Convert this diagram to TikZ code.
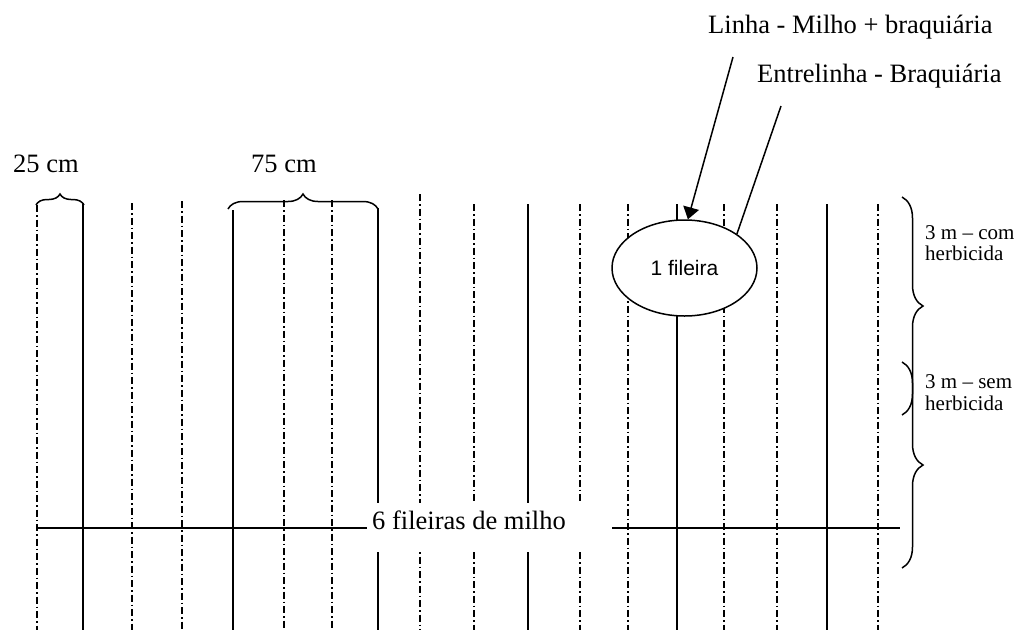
\documentclass[tikz,border=0pt]{standalone}
\usepackage{fontspec}
\setmainfont{Liberation Serif}
\newfontfamily\sansf{Liberation Sans}
\usetikzlibrary{arrows.meta,shapes.geometric,decorations.pathreplacing}
\begin{document}
\begin{tikzpicture}[x=1pt,y=-1pt,
  solidrow/.style={line width=1.6pt},
  ddrow/.style={line width=1.4pt, dash pattern=on 7pt off 3pt on 1.5pt off 3pt},
  brc/.style={line width=1.5pt, decorate, decoration={brace, amplitude=#1}},
  big/.style={font=\fontsize{26.5}{30}\selectfont, inner sep=0, anchor=base west},
  small/.style={font=\fontsize{21}{24}\selectfont, inner sep=0, anchor=base west},
  conn/.style={line width=1.5pt}
]
\fill[white] (0,0) rectangle (1018,630);
\useasboundingbox (0,0) rectangle (1018,630);

% vertical rows
\foreach \x/\t/\s in {37/205/ddrow, 83/203/solidrow, 132/203/ddrow, 182/201/ddrow,
  233/210/solidrow, 284/200/ddrow, 332/200/ddrow, 378/208/solidrow,
  420/194/ddrow, 474/204/ddrow, 528/204/solidrow, 580/204/ddrow,
  628/204/ddrow, 677/204/solidrow, 724/204/ddrow, 777/204/ddrow,
  827/204/solidrow, 878/204/ddrow}
  { \draw[\s] (\x,\t) -- (\x,630); }

% horizontal line
\draw[solidrow] (37,528) -- (900,528);

% top braces
\draw[brc=11pt] (36,205) -- (84,205);
\draw[brc=15pt] (228,209) -- (378,209);

% right braces
\draw[brc=21pt] (902,197) -- (902,415);
\draw[brc=21pt] (902,362) -- (902,568);

% text box
\node (tbox) [fill=white, inner sep=0, minimum width=245pt, minimum height=49pt] at (489.5,527.5) {};
\node (tlab) [big] at (372,529) {6 fileiras de milho};

% ellipse
\node (ell) [ellipse, draw, fill=white, line width=1.5pt, minimum width=145pt,
  minimum height=96pt, inner sep=0, font=\sansf\fontsize{21}{24}\selectfont] at (684.5,268) {1 fileira};

% connectors
\coordinate (a1) at (733,57);
\coordinate (a2) at (781,106);
\draw[conn, -{Triangle[length=12pt,width=16pt]}] (a1) -- (ell.86);
\draw[conn] (a2) -- (ell.33);

% labels
\node (l1) [big] at (708,33) {Linha - Milho + braquiária};
\node (l2) [big] at (757,82) {Entrelinha - Braquiária};
\node (l25) [big] at (13,172) {25 cm};
\node (l75) [big] at (251,172) {75 cm};
\node (com1) [small] at (925,239) {3 m – com};
\node (com2) [small] at (925,260) {herbicida};
\node (sem1) [small] at (925,388) {3 m – sem};
\node (sem2) [small] at (925,410) {herbicida};
\end{tikzpicture}
\end{document}
